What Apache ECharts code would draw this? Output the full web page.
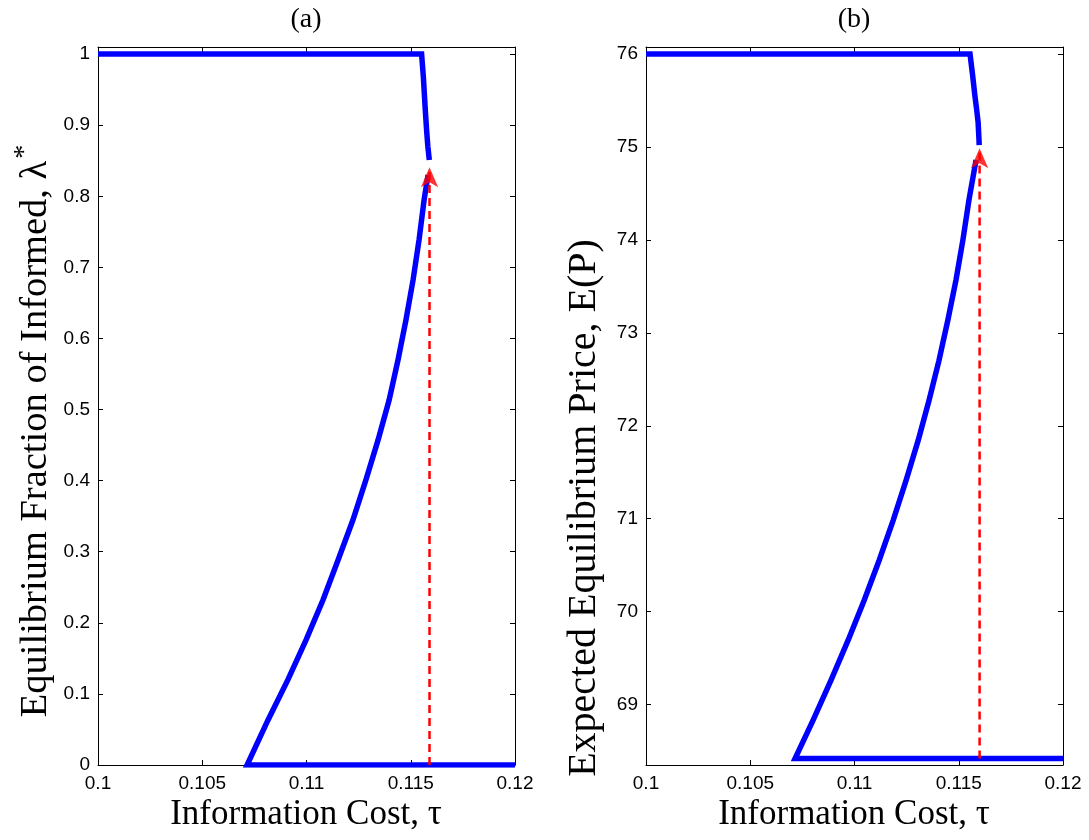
<!DOCTYPE html>
<html><head><meta charset="utf-8">
<script src="https://cdn.jsdelivr.net/npm/echarts@6/dist/echarts.min.js"></script>
<style>html,body{margin:0;padding:0;background:#fff}#c{width:1089px;height:840px}</style>
</head><body><div id="c"></div>
<script>
// ---- tick values ----
const tauTicks = [0.1, 0.105, 0.11, 0.115, 0.12];
const lamTicks = [0, 0.1, 0.2, 0.3, 0.4, 0.5, 0.6, 0.7, 0.8, 0.9, 1];
const priceTicks = [69, 70, 71, 72, 73, 74, 75, 76];

// ---- panel (a): equilibrium fraction of informed ----
const tauUpperA = [0.1, 0.11552, 0.11560, 0.11566, 0.11570, 0.11576, 0.11582, 0.11589];
const lamUpperA = [1, 1, 0.97, 0.94, 0.92, 0.893, 0.87, 0.851];
const tauLowerA = [0.12, 0.10715, 0.10815, 0.10911, 0.10998, 0.11079, 0.11151, 0.11223, 0.11285,
                   0.11343, 0.11396, 0.11439, 0.11477, 0.11511, 0.11540, 0.11564, 0.11583];
const lamLowerA = [0, 0, 0.063, 0.12, 0.176, 0.232, 0.288, 0.345, 0.401,
                   0.457, 0.513, 0.570, 0.626, 0.682, 0.739, 0.795, 0.83];
const tauArrowA = [0.1159, 0.1159];
const lamArrowA = [0, 0.841];

// ---- panel (b): expected equilibrium price ----
const tauUpperB = [0.1, 0.11554, 0.11566, 0.11578, 0.11586, 0.11593, 0.11597, 0.11598];
const priceUpperB = [76, 76, 75.78, 75.54, 75.40, 75.26, 75.08, 75.02];
const tauLowerB = [0.12, 0.10715, 0.10801, 0.10887, 0.10969, 0.11046, 0.11118, 0.11185, 0.11247,
                   0.11305, 0.11357, 0.11405, 0.11448, 0.11487, 0.11520, 0.11549, 0.11583];
const priceLowerB = [68.42, 68.42, 68.83, 69.26, 69.69, 70.12, 70.55, 70.98, 71.41,
                     71.84, 72.27, 72.70, 73.14, 73.57, 74.0, 74.43, 74.86];
const tauArrowB = [0.1160, 0.1160];
const priceArrowB = [68.42, 74.985];

const zip = (xs, ys) => xs.map((x, i) => [x, ys[i]]);

const BLUE = '#0000ff', RED = '#ff0000';
const tickFont = {fontFamily: 'Liberation Sans', fontSize: 19, color: '#000'};
const serif = 'Liberation Serif';

function xAx(gi, pos) {
  return {
    type: 'value', gridIndex: gi, position: pos, min: 0.1, max: 0.12, interval: 0.005,
    axisLine: {show: true, onZero: false, lineStyle: {color: '#000', width: 1}},
    axisTick: {show: true, inside: true, length: 5, lineStyle: {color: '#000'}},
    splitLine: {show: false},
    axisLabel: pos === 'bottom' ? Object.assign({show: true, margin: 9,
      formatter: v => String(+v.toFixed(3))}, tickFont) : {show: false}
  };
}
function yAx(gi, pos, opts, fmt) {
  return Object.assign({
    type: 'value', gridIndex: gi, position: pos,
    axisLine: {show: true, onZero: false, lineStyle: {color: '#000', width: 1}},
    axisTick: {show: true, inside: true, length: 5, lineStyle: {color: '#000'}},
    splitLine: {show: false},
    axisLabel: pos === 'left' ? Object.assign({show: true, margin: 8, formatter: fmt}, tickFont) : {show: false}
  }, opts);
}

const lamFmt = v => (v > 1.0001 ? '' : String(+v.toFixed(2)));
const priceFmt = v => (Math.abs(v - Math.round(v)) < 1e-6 ? String(Math.round(v)) : '');
const yOptsA = {min: 0, max: 1.01, interval: 0.1};
const yOptsB = {min: 68.35, max: 76.075, splitNumber: 8};

function blue(xi, yi, data) {
  return {type: 'line', xAxisIndex: xi, yAxisIndex: yi, data, showSymbol: false, symbol: 'none',
    lineStyle: {color: BLUE, width: 5.5, join: 'miter'}, z: 2, silent: true};
}
function dashed(xi, yi, data) {
  return {type: 'line', xAxisIndex: xi, yAxisIndex: yi, data, showSymbol: false, symbol: 'none',
    lineStyle: {color: RED, width: 2.5, type: [8, 5]}, z: 4, silent: true};
}
function head(xi, yi, pt) {
  return {type: 'scatter', xAxisIndex: xi, yAxisIndex: yi, data: [pt], symbol: 'arrow',
    symbolSize: [13, 20], symbolOffset: [0, 0], itemStyle: {color: RED}, z: 5, silent: true};
}

const chart = echarts.init(document.getElementById('c'), null, {renderer: 'canvas'});
chart.setOption({
  animation: false,
  backgroundColor: '#fff',
  grid: [
    {left: 98, right: 574, top: 47, bottom: 75},
    {left: 646, right: 26, top: 47, bottom: 75}
  ],
  xAxis: [xAx(0, 'bottom'), xAx(0, 'top'), xAx(1, 'bottom'), xAx(1, 'top')],
  yAxis: [yAx(0, 'left', yOptsA, lamFmt), yAx(0, 'right', yOptsA), yAx(1, 'left', yOptsB, priceFmt), yAx(1, 'right', yOptsB)],
  series: [
    blue(0, 0, zip(tauUpperA, lamUpperA)),
    blue(0, 0, zip(tauLowerA, lamLowerA)),
    dashed(0, 0, zip(tauArrowA, lamArrowA)),
    head(0, 0, [tauArrowA[1], lamArrowA[1]]),
    blue(2, 2, zip(tauUpperB, priceUpperB)),
    blue(2, 2, zip(tauLowerB, priceLowerB)),
    dashed(2, 2, zip(tauArrowB, priceArrowB)),
    head(2, 2, [tauArrowB[1], priceArrowB[1]])
  ],
  graphic: [
    {type: 'text', x: 306, y: 20, style: {text: '(a)', font: '28px "Liberation Serif"', fill: '#000', align: 'center', verticalAlign: 'middle'}},
    {type: 'text', x: 854, y: 20, style: {text: '(b)', font: '28px "Liberation Serif"', fill: '#000', align: 'center', verticalAlign: 'middle'}},
    {type: 'text', x: 306, y: 815, style: {text: 'Information Cost, τ', font: '35px "Liberation Serif"', fill: '#000', align: 'center', verticalAlign: 'middle'}},
    {type: 'text', x: 854, y: 815, style: {text: 'Information Cost, τ', font: '35px "Liberation Serif"', fill: '#000', align: 'center', verticalAlign: 'middle'}},
    {type: 'text', x: 33, y: 431, rotation: Math.PI / 2,
      style: {text: '{m|Equilibrium Fraction of Informed, λ}{s|*}', align: 'center', verticalAlign: 'middle', fill: '#000',
        rich: {m: {fontFamily: serif, fontSize: 38.5, color: '#000', verticalAlign: 'bottom'},
               s: {fontFamily: serif, fontSize: 28, color: '#000', verticalAlign: 'top', padding: [0, 0, 16, 2]}}}},
    {type: 'text', x: 584, y: 508, rotation: Math.PI / 2,
      style: {text: 'Expected Equilibrium Price, E(P)', font: '40px "Liberation Serif"', fill: '#000', align: 'center', verticalAlign: 'middle'}}
  ]
});
</script></body></html>
